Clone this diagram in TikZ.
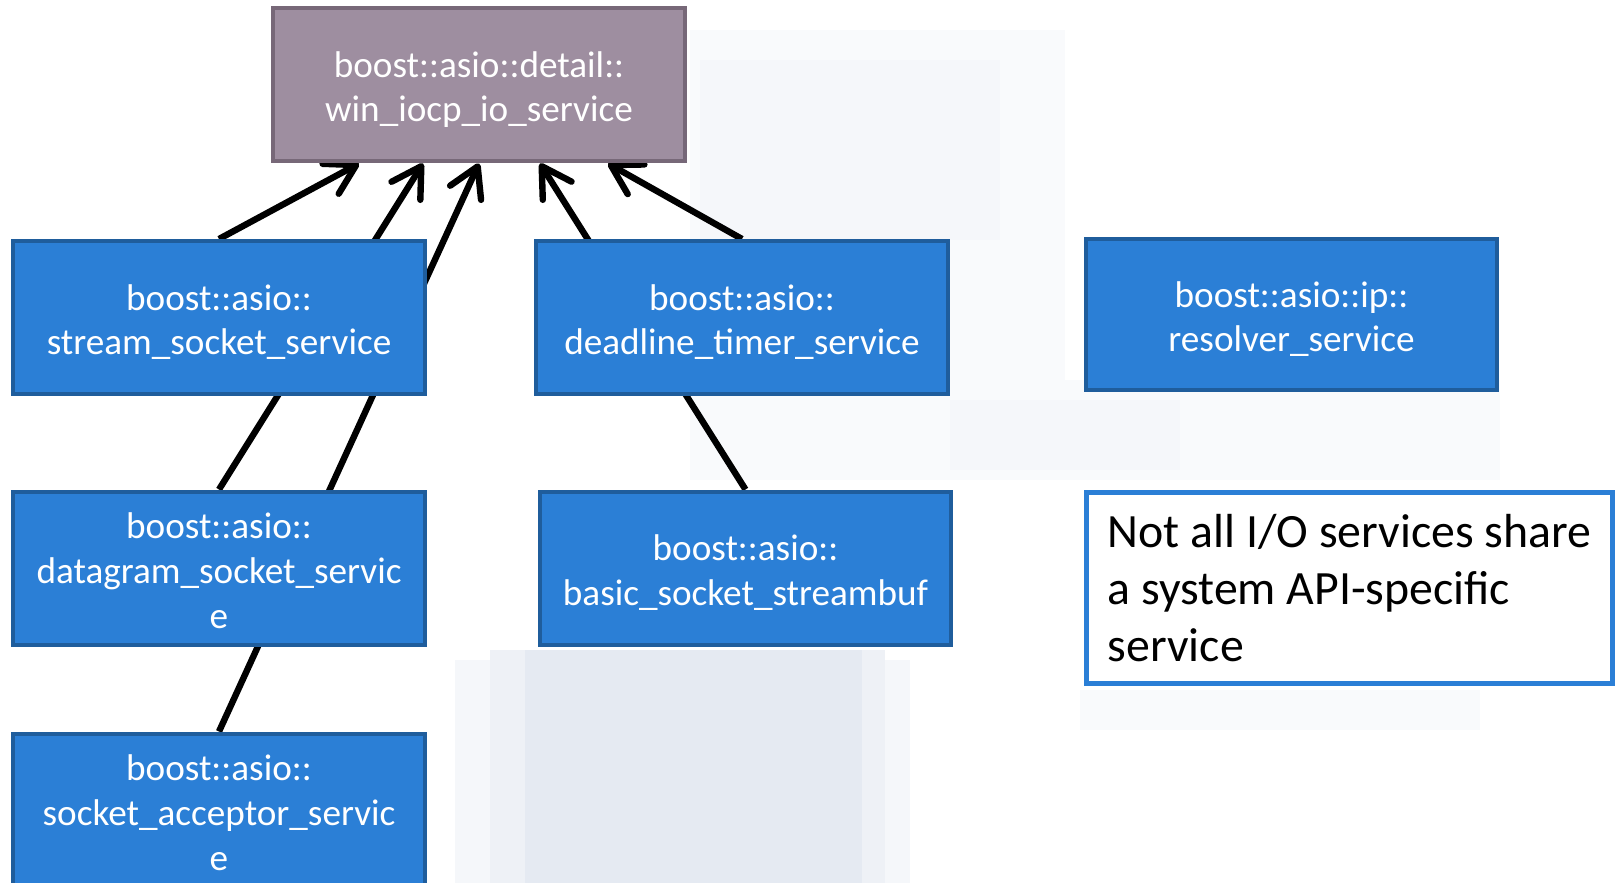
\documentclass[tikz,border=0pt]{standalone}
\usepackage{fontspec}
\setmainfont{Carlito}
\usetikzlibrary{arrows.meta}
\pgfdeclarelayer{haze}
\pgfdeclarelayer{links}
\pgfsetlayers{haze,links,main}

\definecolor{svcfill}{HTML}{2B7FD6}
\definecolor{svcedge}{HTML}{1F5D9C}
\definecolor{corefill}{HTML}{9E8EA0}
\definecolor{coreedge}{HTML}{776878}
\definecolor{notebrd}{HTML}{2B7FD6}
\definecolor{hazeA}{HTML}{E5EAF2}
\definecolor{hazeB}{HTML}{EEF1F6}
\definecolor{hazeC}{HTML}{F5F7FA}
\definecolor{hazeD}{HTML}{F9FAFC}

% struts that lower the text block a little inside its box
\newcommand{\lowtwo}{\rule{0pt}{17.5pt}}
\newcommand{\lowthree}{\rule{0pt}{15.5pt}}

\tikzset{
  svc/.style={draw=svcedge, fill=svcfill, line width=2pt, text=white,
    font=\fontsize{18.6}{22.4}\selectfont, align=center, inner sep=0pt,
    minimum width=206pt, minimum height=76.5pt},
  core/.style={svc, draw=coreedge, fill=corefill},
  note/.style={draw=notebrd, fill=white, line width=2.5pt, text=black,
    font=\fontsize{23.9}{28.7}\selectfont, align=left, inner sep=0pt,
    minimum width=263pt, minimum height=95.5pt},
  link/.style={line width=3.2pt, black,
    -{Straight Barb[length=14.5pt,width=17pt,round]}},
}

\begin{document}
\begin{tikzpicture}[x=0.5pt,y=-0.5pt]
  \useasboundingbox (0,0) rectangle (1623,883);

  % page and soft background patches
  \begin{pgfonlayer}{haze}
    \fill[white] (0,0) rectangle (1623,883);
    \fill[hazeD] (690,30) rectangle (1065,480);
    \fill[hazeD] (990,380) rectangle (1500,480);
    \fill[hazeD] (1080,690) rectangle (1480,730);
    \fill[hazeC] (700,60) rectangle (1000,240);
    \fill[hazeC] (950,400) rectangle (1180,470);
    \fill[hazeC] (455,660) rectangle (910,883);
    \fill[hazeB] (490,650) rectangle (885,883);
    \fill[hazeA] (525,650) rectangle (862,883);
  \end{pgfonlayer}

  % services
  \node[core]   (core)   at (479,85)     {\lowtwo boost::asio::detail::\\win\_iocp\_io\_service};
  \node[svc]    (stream) at (219,317.5)  {\lowtwo boost::asio::\\stream\_socket\_service};
  \node[svc]    (dgram)  at (219,568)    {\lowthree boost::asio::\\datagram\_socket\_servic\\e};
  \node[svc]    (accept) at (219,810)    {\lowthree boost::asio::\\socket\_acceptor\_servic\\e};
  \node[svc]    (timer)  at (742,317.5)  {\lowtwo boost::asio::\\deadline\_timer\_service};
  \node[svc, minimum width=205.5pt]
                (sbuf)   at (745.5,568)  {\lowtwo boost::asio::\\basic\_socket\_streambuf};
  \node[svc, minimum width=205.5pt, minimum height=75.5pt]
                (resolv) at (1291.5,314.5) {\lowtwo boost::asio::ip::\\resolver\_service};
  \node[note]   (remark) at (1349.5,588) {Not all I/O services share\\a system API-specific\\service};

  % dependencies on the platform service
  \begin{pgfonlayer}{links}
    \draw[link] (stream.north) -- ([xshift=-60pt]core.south);
    \draw[link] (dgram.north)  -- ([xshift=-28pt]core.south);
    \draw[link] (accept.north) -- (core.south);
    \draw[link] (sbuf.north)   -- ([xshift=30.5pt]core.south);
    \draw[link] (timer.north)  -- ([xshift=64.5pt]core.south);
  \end{pgfonlayer}
\end{tikzpicture}
\end{document}
